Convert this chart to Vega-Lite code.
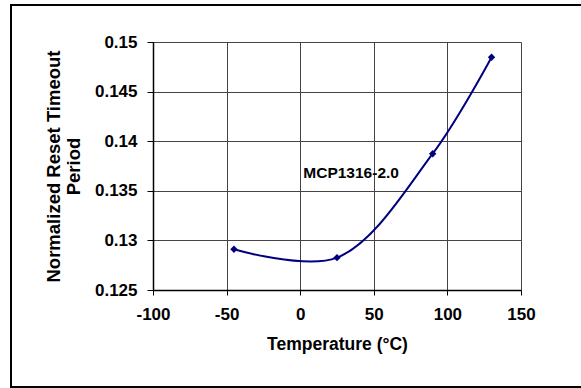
{
  "$schema": "https://vega.github.io/schema/vega-lite/v6.json",
  "width": 368,
  "height": 248,
  "autosize": "none",
  "padding": {"left": 153, "top": 42, "right": 60, "bottom": 98},
  "background": "white",
  "config": {
    "view": {"stroke": null},
    "font": "Liberation Sans",
    "axis": {
      "labelFont": "Liberation Sans",
      "labelFontWeight": "bold",
      "labelFontSize": 17,
      "labelColor": "black",
      "titleFont": "Liberation Sans",
      "titleFontWeight": "bold",
      "titleFontSize": 17.5,
      "titleColor": "black",
      "gridColor": "#444444",
      "gridWidth": 1,
      "gridOpacity": 1,
      "domainColor": "black",
      "domainWidth": 1.5,
      "tickColor": "black",
      "tickWidth": 1
    }
  },
  "datasets": {
    "series": [
      {"temp": -45, "value": 0.1291},
      {"temp": 25, "value": 0.12826},
      {"temp": 90, "value": 0.13874},
      {"temp": 130, "value": 0.14846}
    ],
    "note": [
      {"temp": 2.1, "value": 0.13676, "text": "MCP1316-2.0"}
    ]
  },
  "layer": [
    {
      "data": {"values": [{}]},
      "mark": {"type": "rect", "fill": null, "stroke": "black", "strokeWidth": 2},
      "encoding": {
        "x": {"value": -142},
        "x2": {"value": 432},
        "y": {"value": -37},
        "y2": {"value": 345}
      }
    },
    {
      "data": {"name": "series"},
      "mark": {"type": "line", "color": "#000080", "strokeWidth": 2, "interpolate": "catmull-rom"},
      "encoding": {
        "x": {
          "field": "temp", "type": "quantitative",
          "scale": {"domain": [-100, 150], "nice": false, "zero": false},
          "axis": {"values": [-100, -50, 0, 50, 100, 150], "labelExpr": "datum.value < 0 ? '-' + abs(datum.value) : '' + datum.value", "title": "Temperature (°C)", "tickSize": 5, "labelPadding": 11, "titlePadding": 13, "labelFlush": false}
        },
        "y": {
          "field": "value", "type": "quantitative",
          "scale": {"domain": [0.125, 0.15], "nice": false, "zero": false},
          "axis": {"values": [0.125, 0.13, 0.135, 0.14, 0.145, 0.15], "format": "~g", "title": ["Normalized Reset Timeout", "Period"], "titleFontSize": 18.5, "tickSize": 6, "labelPadding": 10, "titlePadding": 11, "titleLineHeight": 20, "labelFlush": false}
        }
      }
    },
    {
      "data": {"name": "series"},
      "mark": {"type": "point", "shape": "diamond", "filled": true, "color": "#000080", "size": 55, "opacity": 1},
      "encoding": {
        "x": {"field": "temp", "type": "quantitative"},
        "y": {"field": "value", "type": "quantitative"}
      }
    },
    {
      "data": {"name": "note"},
      "mark": {"type": "text", "align": "left", "baseline": "middle", "font": "Liberation Sans", "fontWeight": "bold", "fontSize": 15.5, "color": "black"},
      "encoding": {
        "x": {"field": "temp", "type": "quantitative"},
        "y": {"field": "value", "type": "quantitative"},
        "text": {"field": "text"}
      }
    }
  ]
}
